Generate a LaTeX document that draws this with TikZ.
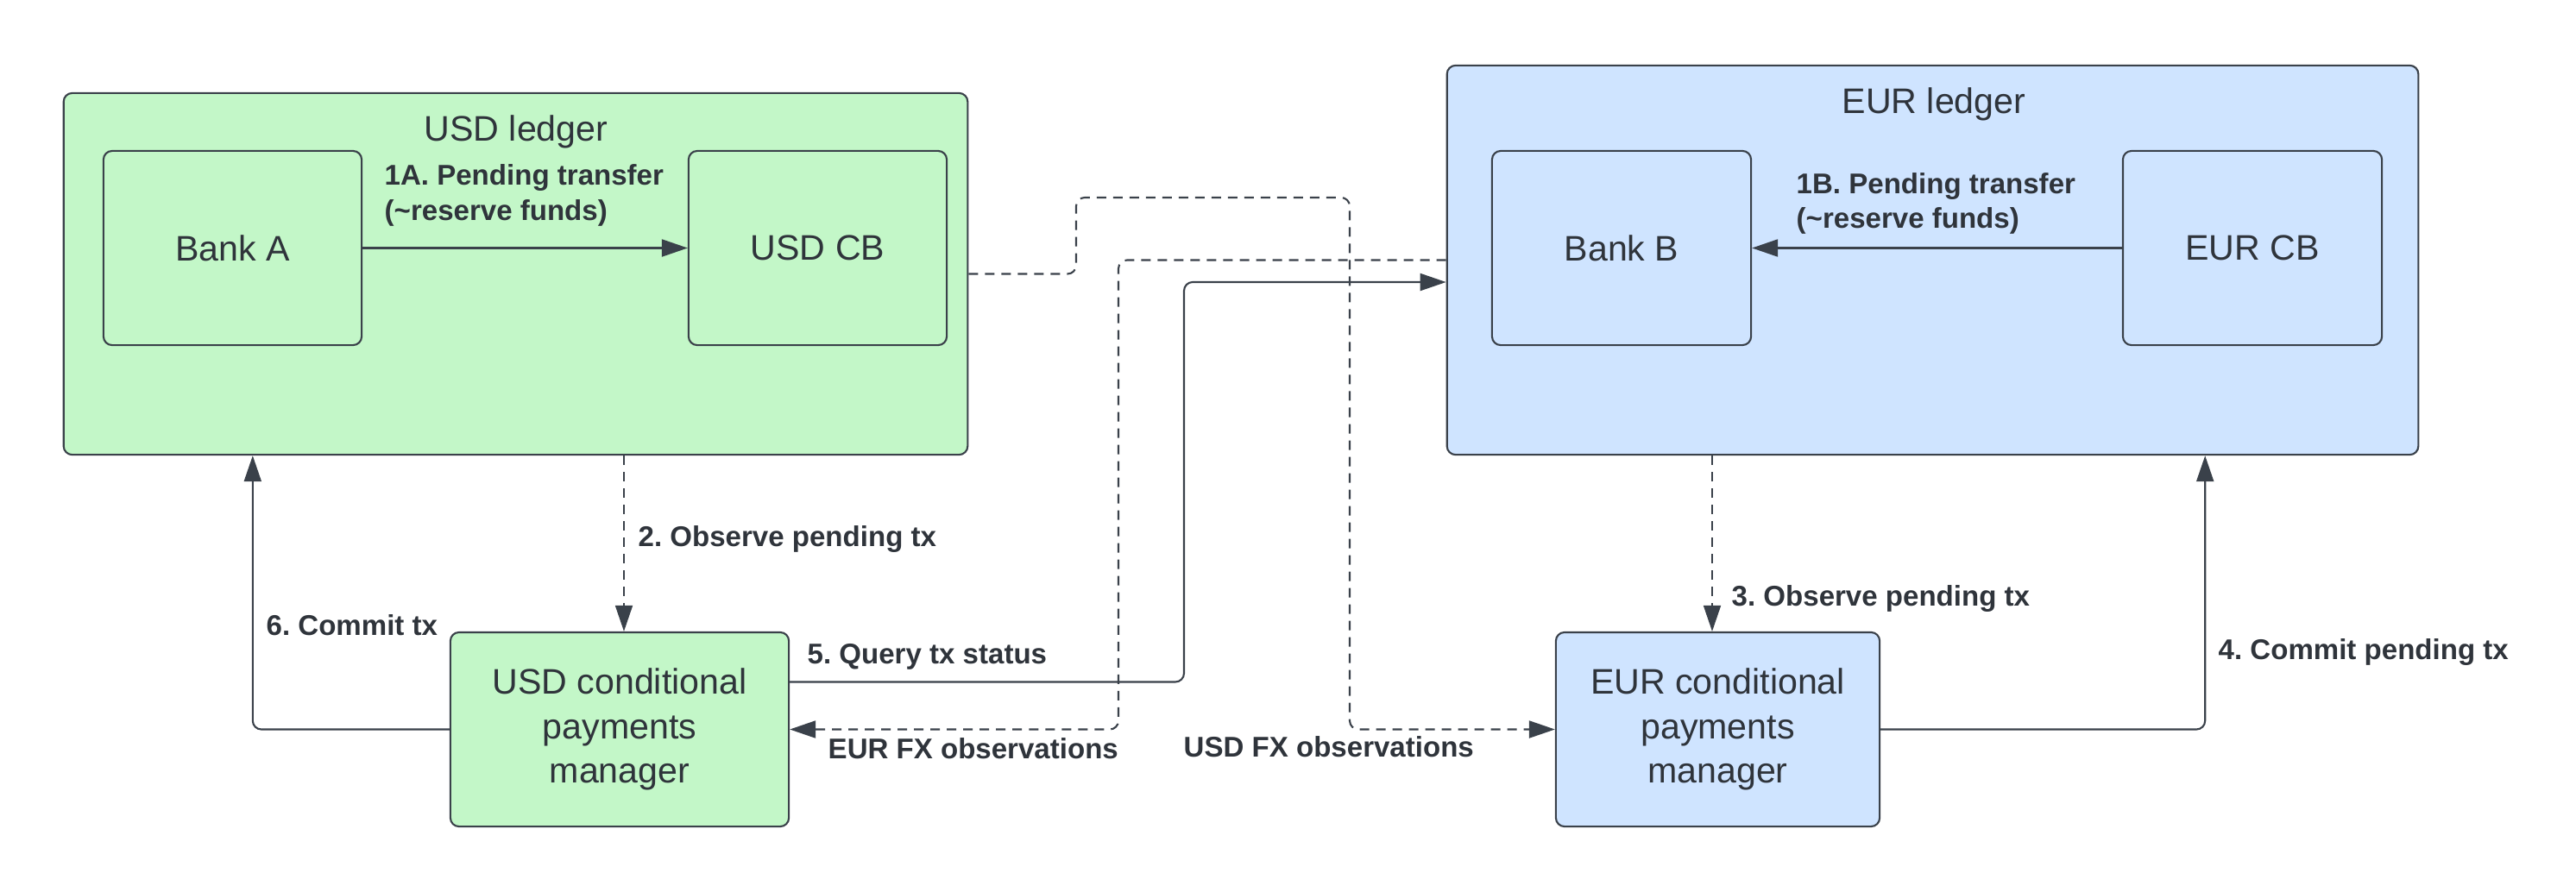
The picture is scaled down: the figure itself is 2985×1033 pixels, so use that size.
\documentclass[tikz,border=0pt]{standalone}
\usepackage{fontspec}
\setmainfont{Liberation Sans}
\usepackage{xcolor}
\usetikzlibrary{arrows.meta,calc,positioning}

\definecolor{lineclr}{HTML}{3A414A}
\definecolor{textclr}{HTML}{2F343B}
\definecolor{usdfill}{HTML}{C3F7C8}
\definecolor{eurfill}{HTML}{CFE4FF}

\tikzset{
  ledger/.style={draw=lineclr, line width=0.6pt, rounded corners=0.1cm, inner sep=0pt},
  title/.style={text=textclr, font=\fontsize{11.7}{14.6}\selectfont},
  box/.style={draw=lineclr, line width=0.6pt, rounded corners=0.1cm, minimum height=2.25cm,
    align=center, text=textclr, font=\fontsize{11.7}{14.6}\selectfont},
  lbl/.style={anchor=west, align=left, inner sep=0pt, text=textclr, font=\fontsize{9.4}{11.6}\selectfont\bfseries},
  flow/.style={draw=lineclr, line width=0.6pt, rounded corners=0.1cm, -{Triangle[length=0.3cm,width=0.2cm]}},
  obs/.style={flow, dash pattern=on 0.11cm off 0.08cm},
}
\frenchspacing

\begin{document}
\begin{tikzpicture}[x=0.01cm,y=-0.01cm]
  \useasboundingbox (0,0) rectangle (2985,1033);

  % Ledgers
  \node[ledger, fill=usdfill, minimum width=10.47cm, minimum height=4.19cm] (usdledger) at (597.5,317.5) {};
  \node[title] (usdtitle) at (598,153) {USD ledger};
  \node[ledger, fill=eurfill, minimum width=11.25cm, minimum height=4.51cm] (eurledger) at (2239.5,301.5) {};
  \node[title] (eurtitle) at (2241,121) {EUR ledger};

  % Banks and central banks
  \node[box, fill=usdfill, minimum width=2.99cm] (banka) at (269.5,287.5) {Bank A};
  \node[box, fill=usdfill, minimum width=2.99cm] (usdcb) at (947.5,287.5) {USD CB};
  \node[box, fill=eurfill, minimum width=3cm] (bankb) at (1879,287.5) {Bank B};
  \node[box, fill=eurfill, minimum width=3cm] (eurcb) at (2610,287.5) {EUR CB};

  % Conditional payments managers
  \node[box, fill=usdfill, minimum width=3.92cm] (usdcpm) at (718,845.5) {USD conditional\\payments\\manager};
  \node[box, fill=eurfill, minimum width=3.75cm] (eurcpm) at (1990.5,845.5) {EUR conditional\\payments\\manager};

  % Step 1: pending transfers
  \draw[flow] (banka) -- (usdcb);
  \node[lbl] (l1a) at (445,226.5) {1A. Pending transfer\\(\textasciitilde reserve funds)};
  \draw[flow] (eurcb) -- (bankb);
  \node[lbl] (l1b) at (2081,236) {1B. Pending transfer\\(\textasciitilde reserve funds)};

  % Steps 2 and 3: observe
  \draw[obs, line width=0.5pt] ([xshift=0.05cm]usdledger.south -| usdcpm.north) -- ([xshift=0.05cm]usdcpm.north);
  \node[lbl] (l2) at (739,625) {2. Observe pending tx};
  \draw[obs, line width=0.5pt] ([xshift=-0.065cm]eurledger.south -| eurcpm.north) -- ([xshift=-0.065cm]eurcpm.north);
  \node[lbl] (l3) at (2006,694) {3. Observe pending tx};

  % Step 4: commit on EUR side
  \draw[flow] (eurcpm.east) -| ([xshift=3.155cm]eurledger.south);
  \node[lbl] (l4) at (2570,756) {4. Commit pending tx};

  % Step 5: query status
  \draw[flow] ([yshift=0.55cm]usdcpm.east) -| (1372,327) -- ([yshift=-0.255cm]eurledger.west);
  \node[lbl] (l5) at (935,761) {5. Query tx status};

  % Step 6: commit on USD side
  \draw[flow] (usdcpm.west) -| ([xshift=-3.045cm]usdledger.south);
  \node[lbl] (l6) at (308,725) {6. Commit tx};

  % FX observations
  \draw[obs] (eurledger.west) -| (1296,845.5) -- (usdcpm.east);
  \node[lbl] (leurfx) at (959,868) {EUR FX observations};
  \draw[obs] (usdledger.east) -| (1247,229) -| (1564,845.5) -- (eurcpm.west);
  \node[lbl] (lusdfx) at (1371,866) {USD FX observations};
\end{tikzpicture}
\end{document}
